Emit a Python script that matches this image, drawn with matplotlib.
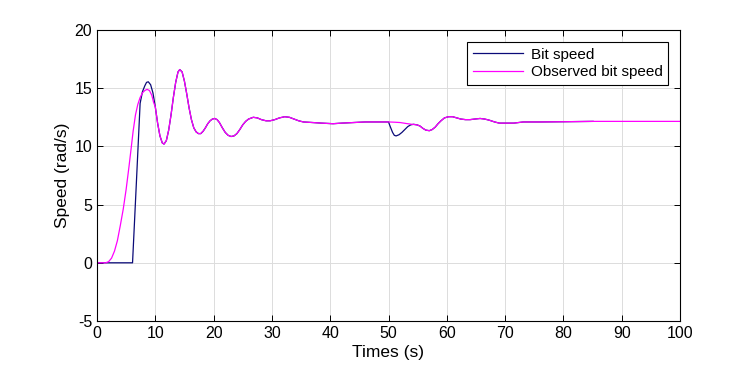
import numpy as np
import matplotlib.pyplot as plt

# values
# start-up of the bit speed (step after ~6 s)
t_bit_start = [0, 6.1, 6.75, 7.4, 7.8, 8.2, 8.5, 8.8, 9.2, 9.6]
v_bit_start = [0, 0, 6.8, 13.7, 14.7, 15.2, 15.5, 15.55, 15.3, 14.6]

# start-up of the observed speed (smooth rise)
t_obs_start = [0, 1.5, 2.0, 2.5, 3.0, 3.5, 4.0, 4.5, 5.0, 5.5, 5.9, 6.2, 6.6, 7.0, 7.4, 7.8,
               8.2, 8.6, 9.0, 9.4, 9.7]
v_obs_start = [0, 0, 0.1, 0.4, 1.0, 1.9, 3.2, 4.6, 6.3, 8.3, 10.0, 11.3, 12.7, 13.6, 14.2, 14.6,
               14.8, 14.9, 14.8, 14.4, 13.8]

# both curves overlap from here to 50 s
t_mid = [10.0, 10.4, 10.8, 11.2, 11.5, 11.9, 12.3, 12.7, 13.1, 13.5, 13.9, 14.2, 14.6, 15.0,
         15.4, 15.8, 16.2, 16.6, 17.0, 17.4, 17.8, 18.2, 18.6, 19.0, 19.4, 19.8, 20.2, 20.6,
         21.0, 21.5, 22.0, 22.5, 23.0, 23.5, 24.0, 24.5, 25.0, 25.5, 26.0, 26.8, 27.5, 28.2,
         29.0, 29.7, 30.5, 31.3, 32.2, 33.0, 33.8, 34.6, 35.4, 37.0, 38.5, 40.5, 42.0, 44.0,
         46.0, 48.0, 50.0]
v_mid = [13.4, 12.0, 10.9, 10.3, 10.2, 10.5, 11.4, 12.7, 14.2, 15.5, 16.4, 16.6, 16.4, 15.6,
         14.5, 13.3, 12.3, 11.6, 11.25, 11.1, 11.1, 11.3, 11.6, 11.95, 12.2, 12.35, 12.4, 12.3,
         12.05, 11.6, 11.2, 10.95, 10.85, 10.9, 11.1, 11.45, 11.85, 12.15, 12.35, 12.5, 12.45, 12.3,
         12.2, 12.2, 12.3, 12.45, 12.55, 12.5, 12.35, 12.2, 12.1, 12.05, 12.0, 11.95, 12.0, 12.05,
         12.1, 12.1, 12.1]

# disturbance near 50 s
t_bit_dip = [50.3, 50.7, 51.0, 51.3, 51.8, 52.3, 52.8, 53.3, 53.8, 54.3, 54.9]
v_bit_dip = [11.7, 11.2, 10.95, 10.9, 11.0, 11.2, 11.45, 11.7, 11.85, 11.9, 11.85]
t_obs_dip = [51.0, 52.0, 53.0, 54.0, 54.9]
v_obs_dip = [12.08, 12.05, 11.97, 11.9, 11.85]

# overlap again after the disturbance
t_tail = [55.4, 55.9, 56.4, 57.0, 57.5, 58.0, 58.5, 59.0, 59.6, 60.3, 61.0, 61.7, 62.4, 63.2,
          64.0, 64.8, 65.7, 66.5, 67.3, 68.2, 69.0, 69.7, 70.5, 71.5, 72.3, 73.1, 76.0, 80.0,
          85.1]
v_tail = [11.75, 11.55, 11.4, 11.35, 11.45, 11.65, 11.95, 12.2, 12.45, 12.55, 12.55, 12.45,
          12.35, 12.3, 12.3, 12.35, 12.4, 12.35, 12.25, 12.1, 12.0, 12.0, 12.0, 12.0, 12.05,
          12.1, 12.1, 12.12, 12.15]

# observed speed continues to the end
t_obs_end = [100.0]
v_obs_end = [12.15]

t_bit = t_bit_start + t_mid + t_bit_dip + t_tail
v_bit = v_bit_start + v_mid + v_bit_dip + v_tail
t_obs = t_obs_start + t_mid + t_obs_dip + t_tail + t_obs_end
v_obs = v_obs_start + v_mid + v_obs_dip + v_tail + v_obs_end

plt.rcParams['font.family'] = ['Liberation Sans', 'DejaVu Sans']
plt.rcParams['axes.unicode_minus'] = False

fig = plt.figure(figsize=(7.5, 3.75), dpi=100)
ax = fig.add_axes([0.1293, 0.144, 0.7774, 0.776])

ax.plot(t_bit, v_bit, color='#0a0a78', lw=0.9, label='Bit speed')
ax.plot(t_obs, v_obs, color='#ff00ff', lw=0.9, label='Observed bit speed')

ax.set_xlim(0, 100)
ax.set_ylim(-5, 20)
ax.set_xticks(np.arange(0, 101, 10))
ax.set_yticks(np.arange(-5, 21, 5))
ax.grid(True, color='#dcdcdc', lw=0.7)
ax.set_axisbelow(True)
ax.tick_params(direction='in', top=True, right=True, labelsize=11.5, length=4, width=0.7)
for s in ax.spines.values():
    s.set_linewidth(0.8)

ax.set_xlabel('Times (s)', fontsize=12.5, labelpad=3)
ax.set_ylabel('Speed (rad/s)', fontsize=12.5, labelpad=3)

leg = ax.legend(loc='upper right', fontsize=11, fancybox=False, framealpha=1,
                edgecolor='black', borderaxespad=0.8, handlelength=3.3,
                handletextpad=0.5, borderpad=0.35, labelspacing=0.25)
leg.get_frame().set_linewidth(0.8)

plt.savefig('out.png', dpi=100)
